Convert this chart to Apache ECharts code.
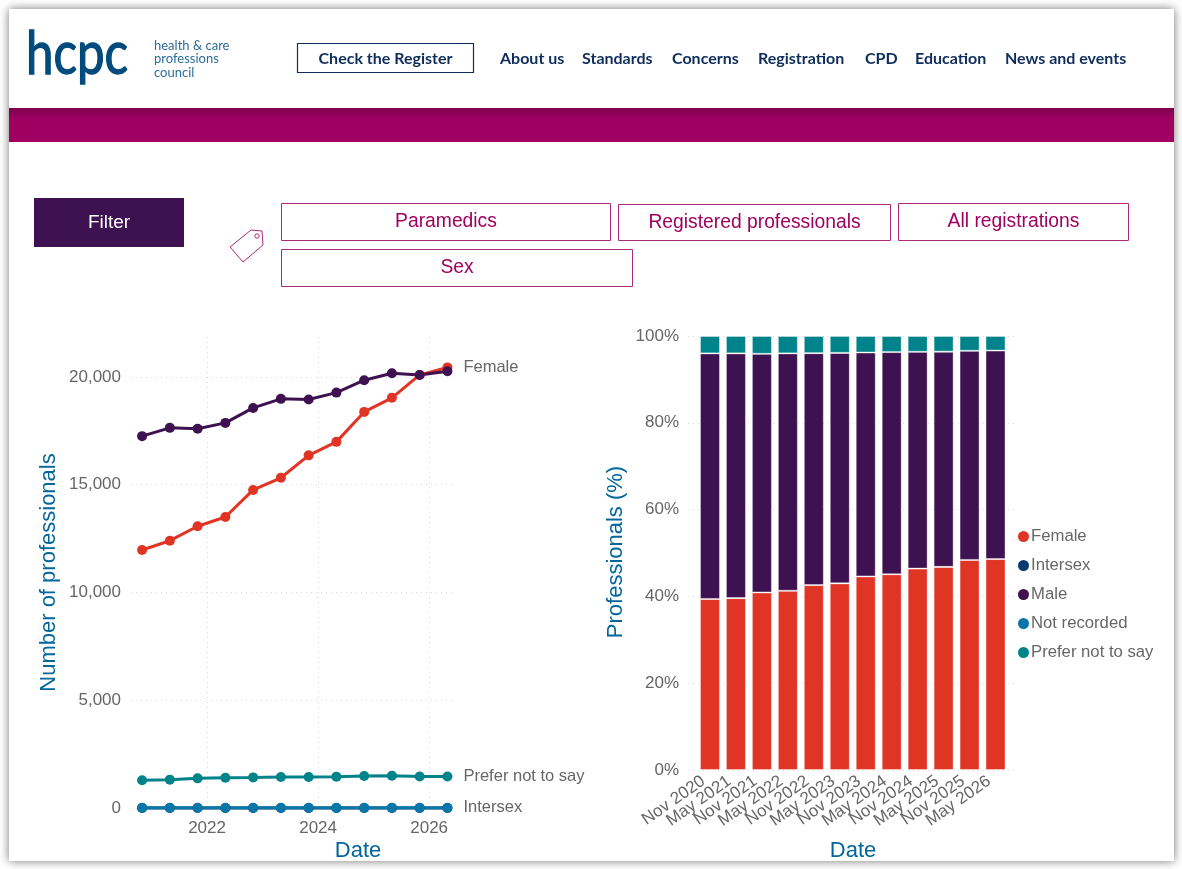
<!DOCTYPE html>
<html><head><meta charset="utf-8">
<style>html,body{margin:0;padding:0;background:#fff}#c{width:1182px;height:869px}</style>
<script src="https://cdn.jsdelivr.net/npm/echarts@6/dist/echarts.min.js"></script>
</head><body><div id="c"></div>
<script>
const dateLabels=['Nov 2020','May 2021','Nov 2021','May 2022','Nov 2022','May 2023','Nov 2023','May 2024','Nov 2024','May 2025','Nov 2025','May 2026'];
const dateYears=[2020.83,2021.33,2021.83,2022.33,2022.83,2023.33,2023.83,2024.33,2024.83,2025.33,2025.83,2026.33];
const yearTicks=[2022,2024,2026];
const countFemale=[11970,12400,13070,13500,14755,15320,16360,16985,18375,19030,20090,20440];
const countMale=[17250,17635,17590,17865,18560,18980,18950,19270,19845,20170,20090,20260];
const countPrefer=[1285,1315,1375,1405,1420,1440,1440,1455,1485,1500,1460,1460];
const countIntersex=[3,3,3,3,3,3,3,3,3,3,3,3];
const countNotRecorded=[6,6,6,6,6,6,6,6,6,6,6,6];
const pctFemale=[39.4,39.6,40.9,41.3,42.6,43.0,44.6,45.1,46.4,46.8,48.4,48.6];
const pctIntersex=[0.01,0.01,0.01,0.01,0.01,0.01,0.01,0.01,0.01,0.01,0.01,0.01];
const pctMale=[56.58,56.38,54.98,54.68,53.43,53.09,51.58,51.18,49.94,49.58,48.18,48.03];
const pctNotRecorded=[0.01,0.01,0.01,0.01,0.01,0.01,0.01,0.01,0.01,0.01,0.01,0.01];
const pctPrefer=[4.0,4.0,4.1,4.0,3.95,3.9,3.8,3.7,3.64,3.6,3.4,3.35];
const legendNames=['Female','Intersex','Male','Not recorded','Prefer not to say'];
const colors={'Female':'#e03425','Intersex':'#0a3a72','Male':'#3e1150','Not recorded':'#0a77a8','Prefer not to say':'#00838a'};

const navy='#0f2d5c', mag='#a0005f', tagLine='#ad2a7a', grey='#666666', axisBlue='#00669b';
const grid={lineStyle:{color:'#d9d9d9',type:[1,4],width:1}};

function lineSeries(name,vals,label){
  return {type:'line',name,xAxisIndex:0,yAxisIndex:0,data:vals.map((v,i)=>[dateYears[i],v]),
    symbol:'circle',symbolSize:10,showSymbol:true,clip:false,
    lineStyle:{color:colors[name],width:3},itemStyle:{color:colors[name]},
    endLabel:{show:label,formatter:name,color:grey,fontFamily:'Liberation Sans',fontSize:16.5,distance:16,padding:[2,0,0,0]},
    emphasis:{disabled:true}};
}
function barSeries(name,vals){
  return {type:'bar',name,xAxisIndex:1,yAxisIndex:1,stack:'pct',barWidth:20,
    data:vals,
    itemStyle:{color:colors[name],borderColor:'rgba(255,255,255,0.38)',borderWidth:1},emphasis:{disabled:true}};
}
const txt=(x,y,text,o)=>({type:'text',x,y,silent:true,style:Object.assign({text,x:0,y:0,fontFamily:'Lato',fontSize:16,fill:navy,textAlign:'left',textVerticalAlign:'middle'},o||{})});
const box=(x,y,w,h,stroke,lw,fill)=>({type:'rect',silent:true,shape:{x,y,width:w,height:h},style:{fill:fill||'none',stroke:stroke,lineWidth:lw||1}});
const tag=(x,y,w,h,t)=>[box(x+.5,y+.5,w-1,h-1,tagLine,1,'#fff'),txt(x+w/2,y+h/2,t,{fontFamily:'Liberation Sans',fontSize:19.3,fill:mag,textAlign:'center'})];

const graphic=[
 {type:'rect',silent:true,z:-10,shape:{x:9,y:9,width:1165,height:852},style:{fill:'#fff',shadowBlur:9,shadowColor:'rgba(0,0,0,0.55)'}},
 {type:'rect',silent:true,z:-9,shape:{x:9,y:108,width:1165,height:34},style:{fill:{type:'linear',x:0,y:0,x2:0,y2:1,colorStops:[{offset:0,color:'#7e0050'},{offset:.3,color:'#9c0060'},{offset:1,color:'#a20062'}]}}},
 {type:'text',silent:true,x:26,y:55,scaleX:.82,style:{text:'hcpc',x:0,y:0,fontFamily:'Lato',fontSize:60,fill:'#004a7c',stroke:'#004a7c',lineWidth:1.3,textAlign:'left',textVerticalAlign:'middle'}},
 txt(154,46,'health & care',{fontSize:13,fill:'#2b6d99'}),
 txt(154,59,'professions',{fontSize:13,fill:'#2b6d99'}),
 txt(154,72.5,'council',{fontSize:13,fill:'#2b6d99'}),
 box(297.5,43.5,176,29,navy,1.2),
 txt(385.5,58.5,'Check the Register',{fontWeight:'bold',textAlign:'center'}),
 txt(500,58.5,'About us',{fontWeight:'bold'}),
 txt(582,58.5,'Standards',{fontWeight:'bold'}),
 txt(672,58.5,'Concerns',{fontWeight:'bold'}),
 txt(758,58.5,'Registration',{fontWeight:'bold'}),
 txt(865,58.5,'CPD',{fontWeight:'bold'}),
 txt(915,58.5,'Education',{fontWeight:'bold'}),
 txt(1005,58.5,'News and events',{fontWeight:'bold'}),
 {type:'rect',silent:true,shape:{x:34,y:198,width:150,height:49},style:{fill:'#3e1150'}},
 txt(109,223,'Filter',{fontFamily:'Liberation Sans',fontSize:19,fill:'#fff',textAlign:'center'}),
 {type:'polygon',silent:true,shape:{points:[[230,247],[251,230],[262,231],[263,245],[243,262]]},style:{fill:'#fff',stroke:tagLine,lineWidth:1}},
 {type:'circle',silent:true,shape:{cx:257,cy:236,r:2.2},style:{fill:'#fff',stroke:tagLine,lineWidth:1}},
 ...tag(281,203,330,38,'Paramedics'),
 ...tag(618,204,273,37,'Registered professionals'),
 ...tag(898,203,231,38,'All registrations'),
 ...tag(281,249,352,38,'Sex'),
 txt(358,850.5,'Date',{fontFamily:'Liberation Sans',fontSize:22,fill:axisBlue,textAlign:'center'}),
 txt(853,850.5,'Date',{fontFamily:'Liberation Sans',fontSize:22,fill:axisBlue,textAlign:'center'}),
 {type:'text',silent:true,x:49,y:572.5,rotation:Math.PI/2,style:{text:'Number of professionals',fontFamily:'Liberation Sans',fontSize:22,fill:axisBlue,textAlign:'center',textVerticalAlign:'middle'}},
 {type:'text',silent:true,x:616,y:552,rotation:Math.PI/2,style:{text:'Professionals (%)',fontFamily:'Liberation Sans',fontSize:22,fill:axisBlue,textAlign:'center',textVerticalAlign:'middle'}}
];

const chart=echarts.init(document.getElementById('c'),null,{renderer:'canvas',width:1182,height:869});
chart.setOption({
 animation:false,backgroundColor:'#fff',
 textStyle:{fontFamily:'Liberation Sans'},
 graphic:{elements:graphic},
 grid:[
  {left:131,top:337,width:322,height:471},
  {left:697,top:336,width:311.5,height:434},
  {left:688,top:336,width:328,height:434}
 ],
 xAxis:[
  {type:'value',gridIndex:0,min:2020.63,max:2026.43,
   axisLine:{show:false},axisTick:{show:false},
   axisLabel:{customValues:yearTicks,formatter:v=>String(v),color:grey,fontSize:17,margin:12,fontFamily:'Liberation Sans'},
   splitLine:{show:false}},
  {type:'category',gridIndex:1,data:dateLabels,
   axisLine:{show:false},axisTick:{show:false},
   axisLabel:{interval:0,rotate:35,color:grey,fontSize:17,margin:5,padding:[0,8,0,0],fontFamily:'Liberation Sans'},
   splitLine:{show:false}},
  {type:'value',gridIndex:2,min:0,max:1,show:false}
 ],
 yAxis:[
  {type:'value',gridIndex:0,min:0,max:21850,interval:5000,
   axisLine:{show:false},axisTick:{show:false},
   axisLabel:{showMaxLabel:false,formatter:v=>v.toLocaleString('en-US'),color:grey,fontSize:17,margin:10,padding:[2,0,0,0],fontFamily:'Liberation Sans'},
   splitLine:Object.assign({show:true,showMaxLine:false},grid)},
  {type:'value',gridIndex:1,min:0,max:100,interval:20,
   axisLine:{show:false},axisTick:{show:false},axisLabel:{show:false},splitLine:{show:false}},
  {type:'value',gridIndex:2,min:0,max:100,interval:20,
   axisLine:{show:false},axisTick:{show:false},
   axisLabel:{formatter:'{value}%',color:grey,fontSize:17,margin:9,padding:[1,0,0,0],fontFamily:'Liberation Sans'},
   splitLine:Object.assign({show:true},grid)}
 ],
 legend:{show:true,data:legendNames.map(n=>({name:n,icon:'circle'})),orient:'vertical',left:1013,top:523,itemWidth:11,itemHeight:11,itemGap:12,
   selectedMode:false,textStyle:{color:grey,fontSize:16.7,fontFamily:'Liberation Sans',padding:[0,0,0,-3]}},
 series:[
  Object.assign(lineSeries('Female',countFemale,true),{markLine:{silent:true,symbol:'none',label:{show:false},lineStyle:grid.lineStyle,z:0,data:yearTicks.map(y=>({xAxis:y}))}}),
  lineSeries('Male',countMale,false),
  lineSeries('Prefer not to say',countPrefer,true),
  lineSeries('Intersex',countIntersex,true),
  lineSeries('Not recorded',countNotRecorded,false),
  barSeries('Female',pctFemale),
  barSeries('Intersex',pctIntersex),
  barSeries('Male',pctMale),
  barSeries('Not recorded',pctNotRecorded),
  barSeries('Prefer not to say',pctPrefer)
 ]
});
</script></body></html>
